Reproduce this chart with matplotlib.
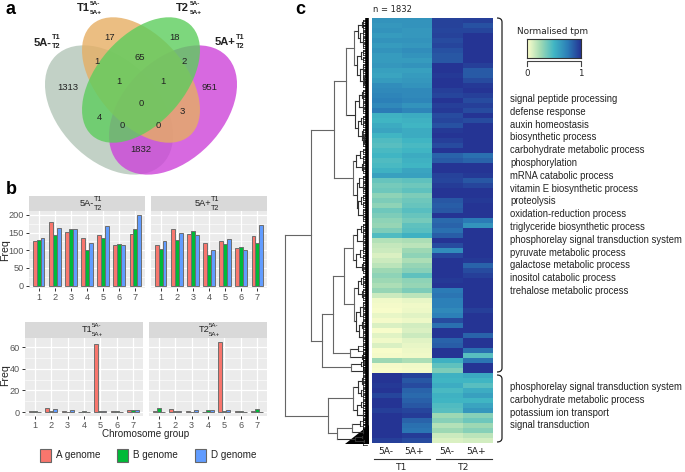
import matplotlib
matplotlib.use("Agg")
import matplotlib.pyplot as plt
import numpy as np
from matplotlib.colors import LinearSegmentedColormap
from matplotlib.patches import Ellipse, PathPatch, Polygon, Rectangle
from matplotlib.path import Path

plt.rcParams["font.family"] = ["Liberation Sans", "DejaVu Sans"]

W, H = 685, 472

# panel a
venn_counts = ["17", "18", "65", "1313", "1", "1", "1", "2", "951", "0", "4", "3", "0", "0", "1832"]
venn_xy = [(110, 38), (175, 38), (140, 57), (68, 87), (97, 62), (119, 82), (163, 82), (184, 62),
           (209, 87), (141, 103), (99, 117), (182, 112), (122, 126), (158, 125), (141, 149)]

# panel b
chrom = [1, 2, 3, 4, 5, 6, 7]
minus_a = [127, 181, 153, 136, 142, 115, 145]
minus_b = [128, 144, 160, 100, 136, 119, 160]
minus_d = [135, 163, 161, 122, 170, 116, 200]
plus_a = [116, 159, 147, 122, 127, 107, 140]
plus_b = [105, 129, 154, 86, 117, 110, 120]
plus_d = [125, 150, 142, 101, 133, 101, 172]
t1_a = [1, 4, 1, 0, 63, 1, 2]
t1_b = [1, 1, 0, 1, 1, 1, 2]
t1_d = [0, 3, 2, 0, 1, 0, 2]
t2_a = [1, 3, 1, 0, 65, 1, 1]
t2_b = [4, 1, 0, 2, 1, 1, 3]
t2_d = [0, 1, 2, 2, 2, 0, 0]

# panel c, one row per 5 px of heatmap, top to bottom
t1_minus = [.66, .64, .66, .62, .66, .62, .66, .62, .62, .64, .60, .58, .62, .68, .70, .72, .74, .70, .76,
            .52, .50, .55, .58, .50, .46, .44, .48, .50, .46, .48, .52, .60, .40, .36, .38, .30, .34, .30,
            .38, .34, .30, .28, .34, .46, .20, .16, .14, .10, .14, .18, .26, .30, .26, .22, .28, .14, .04,
            .03, .02, .06, .03, .10, .02, .08, .04, .10, .02, .03, .26, .03, .02,
            1, 1, .98, 1, .94, 1, 1, .96, 1, 1, 1, 1, 1, .96]
t1_plus = [.66, .66, .64, .64, .66, .64, .68, .66, .62, .66, .60, .62, .64, .66, .70, .70, .72, .66, .72,
           .55, .52, .50, .55, .55, .50, .48, .50, .55, .52, .50, .58, .60, .42, .38, .42, .34, .38, .40,
           .44, .40, .36, .42, .44, .52, .22, .18, .26, .30, .22, .28, .32, .42, .30, .28, .34, .18, .06,
           .04, .05, .08, .05, .12, .10, .14, .08, .06, .05, .04, .22, .04, .03,
           .95, .88, .92, .84, .82, .85, .88, .94, .97, .84, .80, .78, .97, .92]
t2_minus = [.95, .95, .94, .95, .92, .94, .90, .88, .88, 1, 1, .98, 1, 1, .96, .94, 1, .96, .98,
            .92, .94, .90, .98, 1, .96, .92, 1, .84, .87, 1, 1, .95, .94, .97, 1, 1, .88, .86, .88, 1,
            .82, .84, .80, .86, 1, .92, .68, .94, 1, 1, 1, 1, .98, 1, .76, .78, .74, .74, .70, .74, .92,
            .80, 1, 1, .84, .86, 1, 1, .52, .42, .34,
            .52, .50, .54, .48, .52, .50, .46, .44, .26, .32, .20, .26, .14, .10]
t2_plus = [.96, .90, .94, 1, 1, 1, 1, 1, 1, .96, .87, .87, .92, .98, 1, .96, .92, .96, .92,
           1, .92, 1, 1, 1, 1, 1, 1, .80, .84, 1, 1, .98, .88, .94, 1, 1, .98, 1, 1, 1,
           .76, .66, 1, 1, 1, 1, 1, 1, .98, .84, .92, .96, 1, 1, 1, 1, 1, 1, .96, 1, 1,
           1, 1, .84, 1, 1, .80, .44, .78, 1, 1,
           .56, .50, .44, .54, .60, .50, .58, .64, .32, .38, .26, .32, .18, .12]
heat_cols = ["5A-", "5A+", "5A-", "5A+"]
terms_up = ["signal peptide processing", "defense response", "auxin homeostasis", "biosynthetic process",
            "carbohydrate metabolic process", "phosphorylation", "mRNA catabolic process",
            "vitamin E biosynthetic process", "proteolysis", "oxidation-reduction process",
            "triglyceride biosynthetic process", "phosphorelay signal transduction system",
            "pyruvate metabolic process", "galactose metabolic process", "inositol catabolic process",
            "trehalose metabolic process"]
terms_low = ["phosphorelay signal transduction system", "carbohydrate metabolic process",
             "potassium ion transport", "signal transduction"]

# dendrogram: (merge position, upper child, lower child), a bare number is a small clade at that row
tree = (285,
        (311,
         (334,
          (346,
           (354,
            (358, (362, 22, 27), (360, 33, (363, 39, 45))),
            (357, (361, 52, 59), (360, (363, 66, 72), (364, 78, 84)))),
           (355,
            (359, (362, 92, 98), (363, 104, 110)),
            (358, (361, 118, 124), (362, 131, (364, 137, 143))))),
          (353,
           (356, (360, 151, 158), (362, 164, 170)),
           (357, (359, 178, (363, 184, 190)), (358, (361, 197, 204), (363, 211, 218))))),
         (322,
          (333,
           (344,
            (353,
             (357, (361, 226, 232), (363, 238, 244)),
             (356, (360, 250, 257), (362, 264, 270))),
            (354,
             (358, (361, 278, 284), (362, 291, 297)),
             (356, (360, (363, 304, 310), 316), (359, (362, 322, 328), (363, 334, 340))))),
           (350, (358, 346, 351), (362, 355, 359))),
          (351, (361, 362, 366), (364, 369, 372)))),
        (328,
         (353,
          (358, (362, 378, 384), (361, 390, 396)),
          (357, (361, 402, 407), (363, 412, 417))),
         (337,
          (352, (360, 421, 426), (363, 430, 434)),
          (355, (362, 436, 438), (364, 440, 442)))))

fig = plt.figure(figsize=(W / 100, H / 100), dpi=100)


def box(x0, y0, x1, y1):
    return fig.add_axes([x0 / W, 1 - y1 / H, (x1 - x0) / W, (y1 - y0) / H])


ov = fig.add_axes([0, 0, 1, 1], zorder=5)
ov.set_xlim(0, W)
ov.set_ylim(H, 0)
ov.axis("off")
ov.patch.set_alpha(0)
under = fig.add_axes([0, 0, 1, 1], zorder=0)
under.set_xlim(0, W)
under.set_ylim(H, 0)
under.axis("off")


def label(x, y, s, size=6.85, **kw):
    kw.setdefault("ha", "left")
    kw.setdefault("va", "center")
    kw.setdefault("color", "#222222")
    ov.text(x, y, s, fontsize=size, **kw)


def stacked(x, y, top, bottom, size=5, **kw):
    label(x, y - 4.5, top, size, **kw)
    label(x, y + 4.5, bottom, size, **kw)


# --- a ---
for (cx, cy, a, b, ang, col) in [(109, 110, 76, 50, 45.7, "#b3c6b8"),
                                 (173, 110, 76, 50, -45.7, "#cd43d9"),
                                 (141, 80, 74, 44, 48.7, "#e6ae63"),
                                 (141, 80, 74, 44, -48.7, "#5dcd5d")]:
    under.add_patch(Ellipse((cx, cy), 2 * a, 2 * b, angle=ang, fc=col, ec="none", alpha=0.8))
for s, (x, y) in zip(venn_counts, venn_xy):
    label(x, y, s, 6.8, ha="center")
label(6, 10, "a", 13, weight="bold", color="black")
label(34, 43, "5A-", 8, weight="bold")
stacked(52, 42, "T1", "T2", 5.2, weight="bold")
label(77, 8, "T1", 8, weight="bold")
stacked(90, 8, "5A-", "5A+", 4.6, weight="bold")
label(176, 8, "T2", 8, weight="bold")
stacked(190, 8, "5A-", "5A+", 4.6, weight="bold")
label(215, 42, "5A+", 8, weight="bold")
stacked(236, 42, "T1", "T2", 5.2, weight="bold")

# --- b ---
label(6, 190, "b", 13, weight="bold", color="black")
cols = ["#f8766d", "#00ba38", "#619cff"]
panels = [
    ((29, 211, 145, 288), 196, (minus_a, minus_b, minus_d), (-6.5, 211), [0, 50, 100, 150, 200], True),
    ((151, 211, 267, 288), 196, (plus_a, plus_b, plus_d), (-6.5, 211), [0, 50, 100, 150, 200], False),
    ((25, 338, 143, 416), 322, (t1_a, t1_b, t1_d), (-3.7, 68.5), [0, 20, 40, 60], True),
    ((149, 338, 267, 416), 322, (t2_a, t2_b, t2_d), (-3.7, 68.5), [0, 20, 40, 60], False),
]
for (x0, y0, x1, y1), strip, series, yl, yt, left in panels:
    ax = box(x0, y0, x1, y1)
    ax.set_facecolor("#ebebeb")
    ax.set_axisbelow(True)
    for i, vals in enumerate(series):
        ax.bar(np.array(chrom) + (i - 1) * 0.24, vals, 0.24, color=cols[i], edgecolor="#6e6e6e", lw=0.7)
    ax.set_xlim(0.4, 7.6)
    ax.set_ylim(*yl)
    ax.set_xticks(chrom)
    ax.set_yticks(yt)
    ax.set_yticks((np.array(yt[:-1]) + np.array(yt[1:])) / 2, minor=True)
    ax.grid(True, which="major", color="white", lw=0.9)
    ax.grid(True, which="minor", color="white", lw=0.4)
    ax.tick_params(which="minor", length=0)
    ax.tick_params(which="major", labelsize=6.6, length=2, width=0.7, color="#333333",
                   labelcolor="#555555", pad=1.5)
    if not left:
        ax.tick_params(axis="y", length=0, labelleft=False)
    for s in ax.spines.values():
        s.set_visible(False)
    under.add_patch(Rectangle((x0, strip), x1 - x0, y0 - strip, fc="#d9d9d9", ec="none"))

label(80, 204, "5A-", 6.6)
stacked(94, 204, "T1", "T2", 5.2)
label(195, 204, "5A+", 6.6)
stacked(211, 204, "T1", "T2", 5.2)
label(82, 330, "T1", 6.6)
stacked(92, 330, "5A-", "5A+", 4.4)
label(199, 330, "T2", 6.6)
stacked(209, 330, "5A-", "5A+", 4.4)
label(5, 250, "Freq", 7.6, rotation=90, ha="center")
label(5, 375, "Freq", 7.6, rotation=90, ha="center")
label(146, 434, "Chromosome group", 7.1, ha="center")
for x, c, s in [(40, cols[0], "A genome"), (117, cols[1], "B genome"), (195, cols[2], "D genome")]:
    ov.add_patch(Rectangle((x, 449), 11.5, 12.5, fc=c, ec="#666666", lw=0.8))
    label(x + 16, 455, s, 7.1)

# --- c ---
label(295, 10, "c", 13, weight="bold", color="black")
label(373, 10, "n = 1832", 6, family="DejaVu Sans")
ylgnbu = LinearSegmentedColormap.from_list("tpm", ["#ffffcc", "#a1dab4", "#41b6c4", "#2c7fb8", "#253494"])
heat = np.array([t1_minus, t1_plus, t2_minus, t2_plus]).T
hm = box(372, 18, 493, 443)
hm.imshow(heat, cmap=ylgnbu, vmin=0, vmax=1, aspect="auto", interpolation="nearest")
hm.axis("off")


def draw_node(node, px):
    if not isinstance(node, tuple):
        # a small clade at this row
        ov.plot([px, 363], [node, node], color="#222222", lw=0.5)
        ov.plot([363, 363], [node - 2.5, node + 2.5], color="#111111", lw=0.5)
        for dy in (-2.5, -1, 1, 2.5):
            ov.plot([363, 367], [node + dy, node + dy], color="black", lw=0.5)
        return node
    x, upper, lower = node
    y0 = draw_node(upper, x)
    y1 = draw_node(lower, x)
    ymid = (y0 + y1) / 2
    c = "#333333" if x >= 355 else "#666666"
    ov.plot([x, x], [y0, y1], color=c, lw=0.8)
    if px is not None:
        ov.plot([px, x], [ymid, ymid], color=c, lw=0.8)
    return ymid


draw_node(tree, None)
ov.plot([367.5, 367.5], [18, 443], color="black", lw=2.6, solid_capstyle="butt")
ov.add_patch(Polygon([(369, 425), (369, 444), (345, 444)], fc="black", ec="none"))

for x, s in zip([386, 414, 447, 476], heat_cols):
    label(x, 452, s, 6.6, ha="center", family="DejaVu Sans")
ov.plot([374, 430], [459, 459], color="#333333", lw=0.8)
ov.plot([436, 492], [459, 459], color="#333333", lw=0.8)
label(402, 467, "T1", 6.6, ha="center", family="DejaVu Sans")
label(464, 467, "T2", 6.6, ha="center", family="DejaVu Sans")

for i, s in enumerate(terms_up):
    label(510, 99 + i * 12.8, s)
for i, s in enumerate(terms_low):
    label(510, 387 + i * 12.8, s)


def bracket(y0, y1, xl, xr):
    # right hand brace, open to the heatmap
    verts = [(xl, y0), (xr, y0), (xr, y0 + 4), (xr, y1 - 4), (xr, y1), (xl, y1)]
    codes = [Path.MOVETO, Path.CURVE3, Path.CURVE3, Path.LINETO, Path.CURVE3, Path.CURVE3]
    ov.add_patch(PathPatch(Path(verts, codes), fc="none", ec="#222222", lw=0.9))


bracket(18, 372, 497, 502)
bracket(375, 442, 497, 502)

cb = box(527, 39, 581, 58)
cb.imshow(np.linspace(0, 1, 256)[None, :], cmap=ylgnbu, aspect="auto")
cb.set_xticks([])
cb.set_yticks([])
for s in cb.spines.values():
    s.set_color("#333333")
    s.set_linewidth(0.8)
label(553, 31, "Normalised tpm", 6.4, ha="center", family="DejaVu Sans")
ov.plot([527, 527, 581, 581], [66, 61, 61, 66], color="#444444", lw=0.8)
label(527, 73, "0", 6.2, ha="center", family="DejaVu Sans")
label(581, 73, "1", 6.2, ha="center", family="DejaVu Sans")

fig.savefig("out.png", dpi=100)
